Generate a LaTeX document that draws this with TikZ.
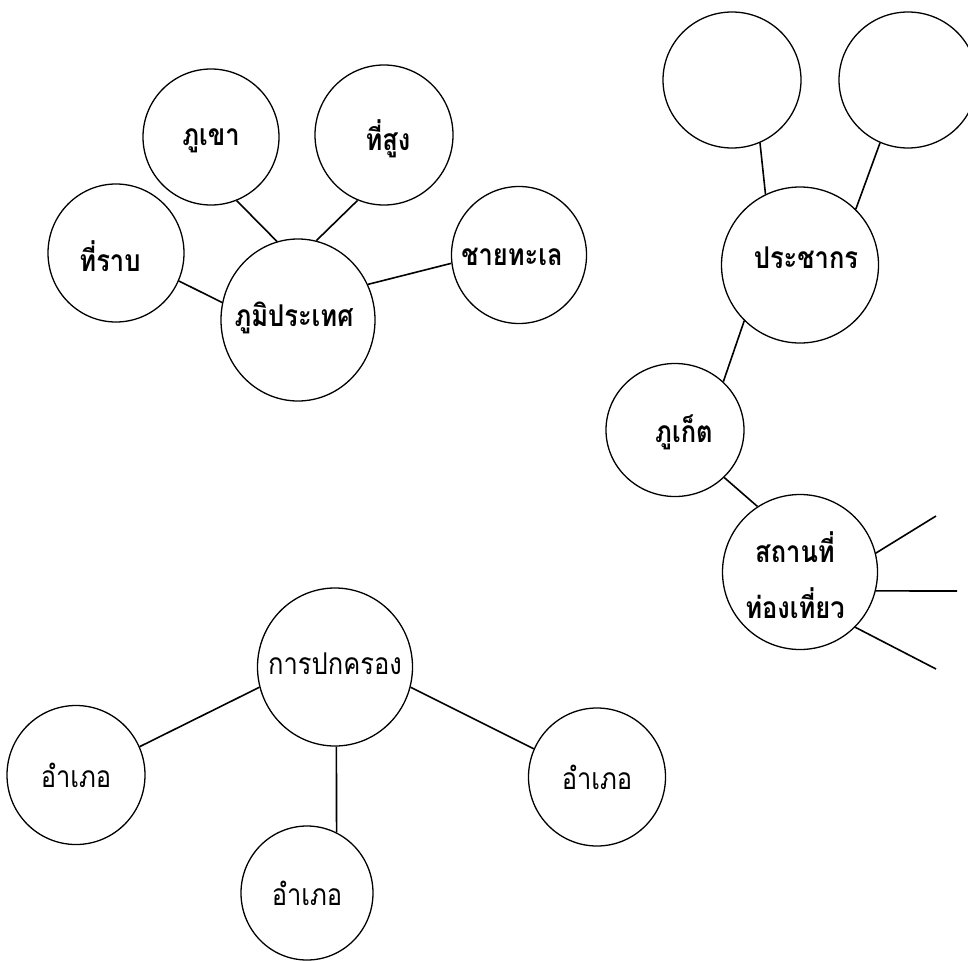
\documentclass[tikz,border=0pt]{standalone}
\usepackage{fontspec}
\newfontfamily\thaifont[Script=Thai, FakeStretch=0.85]{Loma}
\usetikzlibrary{shapes.geometric}
\begin{document}
\begin{tikzpicture}[x=1pt,y=-1pt,
  bubble/.style={draw, ellipse, line width=1.3pt, inner sep=0pt},
  txt/.style={font=\thaifont\fontsize{30}{34}\selectfont, align=center, inner sep=0pt},
  btxt/.style={font=\thaifont\bfseries\fontsize{30}{34}\selectfont, align=center, inner sep=0pt},
  twoline/.style={font=\thaifont\bfseries\fontsize{30}{56}\selectfont, align=center, inner sep=0pt},
  link/.style={line width=1.6pt}]
\useasboundingbox (0,0) rectangle (968,960);
\clip (0,0) rectangle (968,960);
% top-left cluster
\node[bubble, minimum width=136pt, minimum height=138pt, label={[btxt, xshift=-6pt, yshift=-3pt]center:ที่ราบ}] (rab) at (116,253) {};
\node[bubble, minimum width=136pt, minimum height=136pt, label={[btxt, yshift=-4pt]center:ภูเขา}] (khao) at (211,137) {};
\node[bubble, minimum width=138pt, minimum height=140pt, label={[btxt, xshift=4pt, yshift=-4pt]center:ที่สูง}] (sung) at (384,135) {};
\node[bubble, minimum width=154pt, minimum height=162pt, label={[btxt, xshift=-4pt, yshift=2pt]center:ภูมิประเทศ}] (phumi) at (298,320) {};
\node[bubble, minimum width=135pt, minimum height=137pt, label={[btxt, xshift=-7pt, yshift=-2pt]center:ชายทะเล}] (chay) at (519,255) {};
% right cluster
\node[bubble, minimum width=138pt, minimum height=136pt] (c1) at (732,80) {};
\node[bubble, minimum width=138pt, minimum height=136pt] (c2) at (908,80) {};
\node[bubble, minimum width=157pt, minimum height=156pt, label={[btxt, xshift=6pt, yshift=7pt]center:ประชากร}] (pracha) at (800,265) {};
\node[bubble, minimum width=138pt, minimum height=133pt, label={[btxt, xshift=9pt, yshift=-2pt]center:ภูเก็ต}] (phuket) at (675,430) {};
\node[bubble, minimum width=155pt, minimum height=155pt, label={[twoline, xshift=-5pt, yshift=-3pt]center:สถานที่\\ท่องเที่ยว}] (sathan) at (800,572) {};
\coordinate (e1) at (936,516);
\coordinate (e2) at (957,591);
\coordinate (e3) at (936,669);
% bottom cluster
\node[bubble, minimum width=155pt, minimum height=158pt, label={[txt, yshift=3pt]center:การปกครอง}] (kan) at (335,667) {};
\node[bubble, minimum width=138pt, minimum height=139pt, label={[txt]center:อำเภอ}] (amL) at (76,775) {};
\node[bubble, minimum width=132pt, minimum height=134pt, label={[txt]center:อำเภอ}] (amM) at (307,893) {};
\node[bubble, minimum width=137pt, minimum height=138pt, label={[txt]center:อำเภอ}] (amR) at (597,777) {};
% connectors
\draw[link] (khao.-68) -- (phumi.105);
\draw[link] (rab.-24) -- (phumi.167);
\draw[link] (sung.248) -- (phumi.77);
\draw[link] (phumi.27) -- (chay.187);
\draw[link] (c1.-66) -- (pracha.116);
\draw[link] (c2.-114) -- (pracha.45);
\draw[link] (pracha.225) -- (phuket.45);
\draw[link] (phuket.-44) -- (sathan.123);
\draw[link] (sathan.14) -- (e1);
\draw[link] (sathan.-14) -- (e2);
\draw[link] (sathan.-45) -- (e3);
\draw[link] (kan.195) -- (amL.24);
\draw[link] (kan.-89) -- (amM.64);
\draw[link] (kan.-15) -- (amR.156);
\end{tikzpicture}
\end{document}
